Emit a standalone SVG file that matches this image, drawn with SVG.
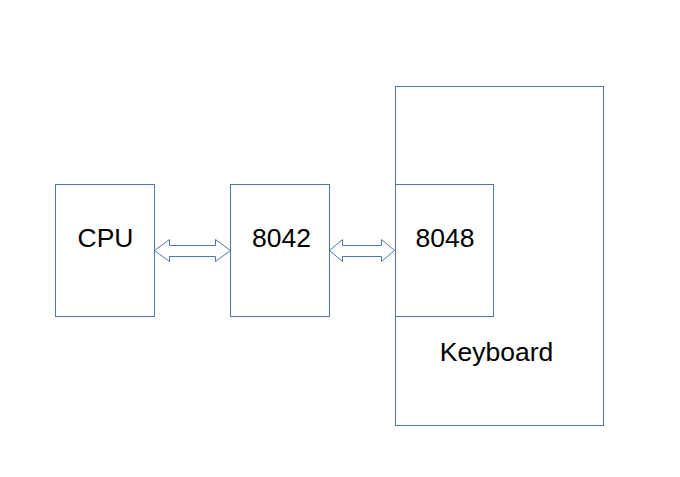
<svg xmlns="http://www.w3.org/2000/svg" width="680" height="477" viewBox="0 0 680 477">
<style>
.box{fill:#fff;stroke:#4a76b8;stroke-width:1}
.arr{fill:#fff;stroke:#4a76b8;stroke-width:1;stroke-linejoin:miter}
text{font-family:"Liberation Sans",Arial,sans-serif;font-size:26.5px;fill:#000;text-anchor:middle}
</style>
<rect width="680" height="477" fill="#fff"/>
<g id="keyboard"><rect class="box" x="395.5" y="86.5" width="208" height="339"/><text x="496.5" y="361">Keyboard</text></g>
<g id="cpu"><rect class="box" x="55.5" y="184.5" width="99" height="132"/><text x="105.5" y="246.5">CPU</text></g>
<g id="n8042"><rect class="box" x="230.5" y="184.5" width="99" height="132"/><text x="281.5" y="246.5">8042</text></g>
<g id="n8048"><rect class="box" x="395.5" y="184.5" width="98" height="132"/><text x="445" y="246.5">8048</text></g>
<g id="connectors">
<polygon class="arr" points="154.5,250.5 169.5,239.5 169.5,245.5 215.5,245.5 215.5,239.5 230.5,250.5 215.5,261.5 215.5,256.5 169.5,256.5 169.5,261.5"/>
<polygon class="arr" points="329.5,250.5 342.5,239.5 342.5,245.5 381.5,245.5 381.5,239.5 394.5,250.5 381.5,261.5 381.5,256.5 342.5,256.5 342.5,261.5"/>
</g>
</svg>
